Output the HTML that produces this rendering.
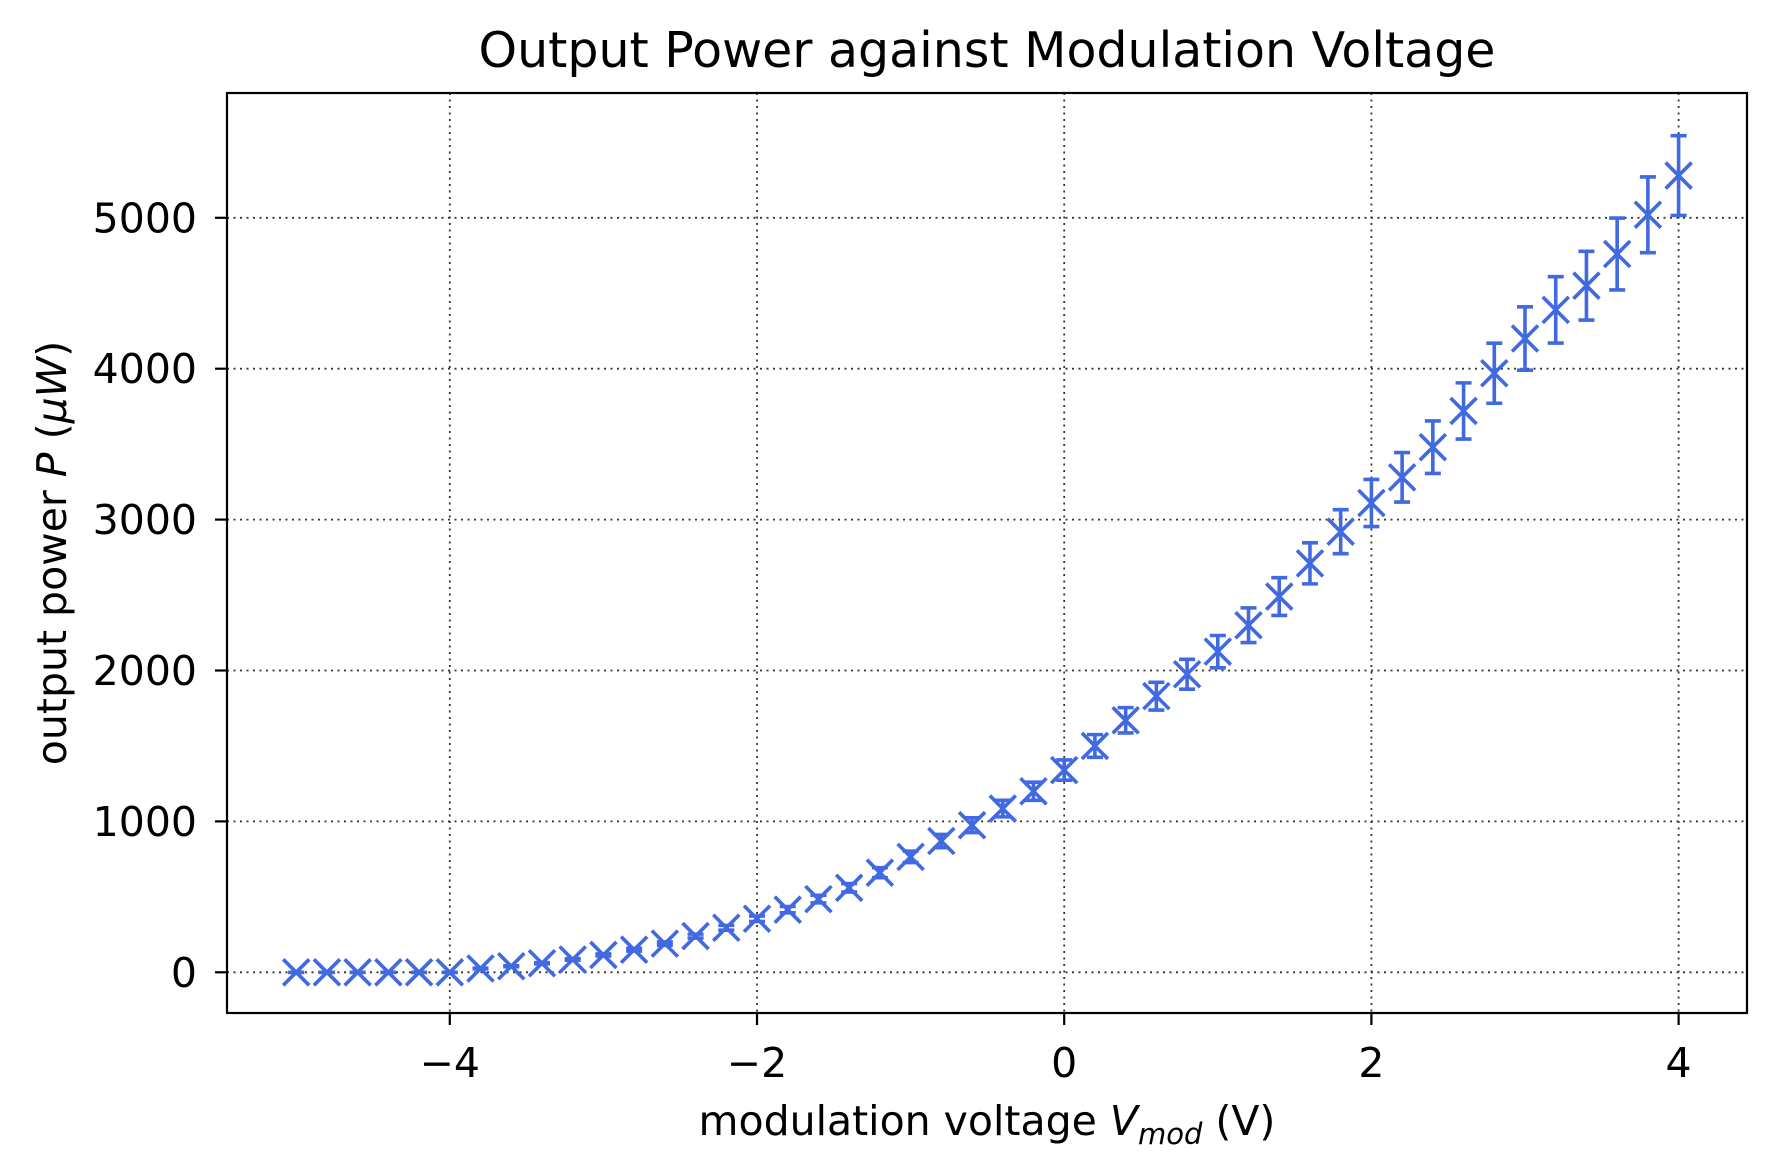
<!DOCTYPE html>
<html><head><meta charset="utf-8"><style>
body{margin:0;background:#fff}
svg text{font-family:"DejaVu Sans","Liberation Sans",sans-serif;fill:#000}
</style></head><body>
<svg id="chart" width="1770" height="1170" viewBox="0 0 1770 1170" xmlns="http://www.w3.org/2000/svg">
<rect width="1770" height="1170" fill="#fff"/>
<g id="grid"></g>
<g id="marks"></g>
<rect x="227" y="93" width="1520" height="920" fill="none" stroke="#000" stroke-width="2.2"/>
<g id="ticks"></g>
<text x="987" y="67" font-size="49" text-anchor="middle">Output Power against Modulation Voltage</text>
<text x="987" y="1135" font-size="41" text-anchor="middle">modulation voltage <tspan font-style="italic">V</tspan><tspan font-style="italic" font-size="29" dy="9">mod</tspan><tspan dy="-9"> (V)</tspan></text>
<text transform="translate(66,553) rotate(-90)" font-size="41" text-anchor="middle">output power <tspan font-style="italic">P</tspan> (<tspan font-style="italic">μW</tspan>)</text>
</svg>
<script>
const voltages=[-5,-4.8,-4.6,-4.4,-4.2,-4,-3.8,-3.6,-3.4,-3.2,-3,-2.8,-2.6,-2.4,-2.2,-2,-1.8,-1.6,-1.4,-1.2,-1,-0.8,-0.6,-0.4,-0.2,0,0.2,0.4,0.6,0.8,1,1.2,1.4,1.6,1.8,2,2.2,2.4,2.6,2.8,3,3.2,3.4,3.6,3.8,4];
const powers=[0,0,0,0,0,0,25,40,60,85,115,150,190,240,295,355,415,485,560,660,765,870,975,1085,1200,1340,1500,1670,1830,1975,2125,2300,2490,2710,2920,3110,3280,3480,3720,3970,4200,4390,4550,4760,5020,5280];
const errors=[0,0,0,0,0,0,2,3,4,5,7,9,11,13,16,18,21,25,28,33,38,44,49,55,60,67,75,84,92,99,107,115,125,136,146,156,164,174,186,199,210,220,228,238,251,264];
const xTicks=[-4,-2,0,2,4];
const yTicks=[0,1000,2000,3000,4000,5000];
const xs=v=>1064.2+v*153.6;
const ys=p=>972.3-p*0.1509;
const NS="http://www.w3.org/2000/svg";
function mk(tag,attrs,parent){const e=document.createElementNS(NS,tag);for(const k in attrs)e.setAttribute(k,attrs[k]);parent.appendChild(e);return e;}
const grid=document.getElementById('grid'),ticks=document.getElementById('ticks'),marks=document.getElementById('marks');
xTicks.forEach(t=>{const x=xs(t);
 const g=mk('line',{x1:x,x2:x,y1:93,y2:1013,stroke:'#333','stroke-width':1.8,'stroke-dasharray':'2,4.5'},grid);
 
 
 const tk=mk('line',{x1:x,x2:x,y1:1013,y2:1025,stroke:'#000','stroke-width':2.2},ticks);
 
 
 const tx=mk('text',{x:x,y:1077,'font-size':41,'text-anchor':'middle'},ticks);tx.textContent=t<0?'\u2212'+(-t):String(t);
 
 
});
yTicks.forEach(t=>{const y=ys(t);
 const g=mk('line',{x1:227,x2:1747,y1:y,y2:y,stroke:'#333','stroke-width':1.8,'stroke-dasharray':'2,4.5'},grid);
 
 
 const tk=mk('line',{x1:215,x2:227,y1:y,y2:y,stroke:'#000','stroke-width':2.2},ticks);
 
 
 const tx=mk('text',{x:197,y:y+14.5,'font-size':41,'text-anchor':'end'},ticks);tx.textContent=String(t);
 
 
});
const c='#4169e1';
voltages.forEach((v,i)=>{const x=xs(v),y=ys(powers[i]),y1=ys(powers[i]+errors[i]),y2=ys(powers[i]-errors[i]);
 const g=mk('g',{stroke:c,'stroke-width':3.6,fill:'none'},marks);
 
 
 mk('line',{x1:x,x2:x,y1:y1,y2:y2},g);
 mk('line',{x1:x-8,x2:x+8,y1:y1,y2:y1},g);
 mk('line',{x1:x-8,x2:x+8,y1:y2,y2:y2},g);
 mk('path',{d:`M${x-13},${y-13}L${x+13},${y+13}M${x-13},${y+13}L${x+13},${y-13}`},g);
});
</script>
</body></html>
